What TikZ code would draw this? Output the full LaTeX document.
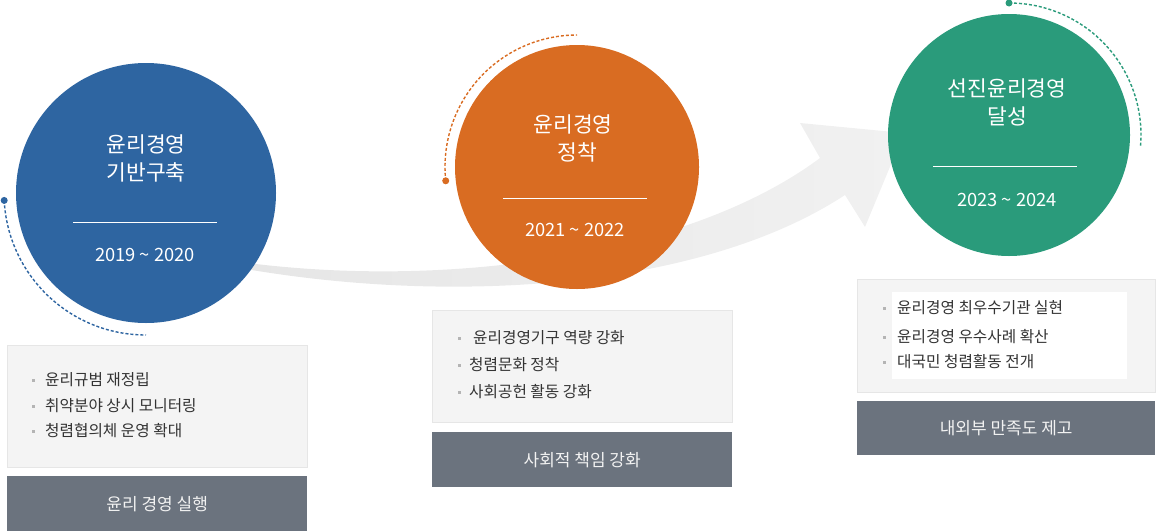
\documentclass[tikz,border=0pt]{standalone}
\usepackage{fontspec}
\setmainfont{Noto Sans CJK KR}
\usetikzlibrary{positioning}
\definecolor{stageblue}{HTML}{2E65A1}
\definecolor{stageorange}{HTML}{D96C22}
\definecolor{stagegreen}{HTML}{2A9B7B}
\definecolor{bargray}{HTML}{6B737E}
\definecolor{bartext}{HTML}{F2F2F2}
\definecolor{boxfill}{HTML}{F4F4F4}
\definecolor{boxline}{HTML}{E6E6E6}
\definecolor{itemtext}{HTML}{333333}
\definecolor{bulletgray}{HTML}{B4B4B4}
\definecolor{arrowleft}{HTML}{E6E6E6}
\definecolor{arrowright}{HTML}{F1F1F1}
\begin{document}
\begin{tikzpicture}[x=1pt,y=-1pt,
    stage/.style={shape=circle, inner sep=0pt},
    title/.style={text=white, align=center, font=\fontsize{21.5}{28}\selectfont},
    period/.style={text=white, font=\fontsize{18.3}{20}\selectfont},
    divider/.style={white, line width=0.8pt},
    dotarc/.style={line width=1.4pt, dash pattern=on 3pt off 2pt},
    listbox/.style={shape=rectangle, draw=boxline, fill=boxfill, anchor=north west, inner sep=0pt},
    item/.style={anchor=west, inner sep=0pt, text=itemtext, font=\fontsize{15.7}{18}\selectfont},
    bullet/.style={shape=rectangle, fill=bulletgray, minimum size=3pt, inner sep=0pt},
    bar/.style={shape=rectangle, fill=bargray, anchor=north west, inner sep=0pt, text=bartext, font=\fontsize{17}{18}\selectfont},
  ]
    \useasboundingbox (0,0) rectangle (1156,530);

    % big curved arrow behind the stages
    \shade[left color=arrowleft, right color=arrowright] (240,262) .. controls (450,290) and (690,255) .. (820,158)
      -- (800,123) -- (904,133) -- (865,227) -- (845,195)
      .. controls (700,290) and (450,305) .. (240,268) -- cycle;

    % stage 1
    \node[stage, fill=stageblue, minimum size=260pt] (c1) at (146,193) {};
    \draw[dotarc, stageblue] ([shift={(183:142pt)}]c1.center) arc[start angle=183, end angle=270, radius=142pt];
    \fill[stageblue] ([shift={(183:142pt)}]c1.center) circle[radius=3.5pt];
    \node[title] (t1) at (146,158) {윤리경영\\기반구축};
    \draw[divider] (73,222) -- (217,222);
    \node[period] (p1) at (145,255) {2019 \textasciitilde{} 2020};

    % stage 2
    \node[stage, fill=stageorange, minimum size=244pt] (c2) at (577,167) {};
    \draw[dotarc, stageorange] ([shift={(186:132pt)}]c2.center) arc[start angle=186, end angle=90, radius=132pt];
    \fill[stageorange] ([shift={(186:132pt)}]c2.center) circle[radius=3.5pt];
    \node[title] (t2) at (573,138) {윤리경영\\\hspace*{8pt}정착};
    \draw[divider] (503,198) -- (647,198);
    \node[period] (p2) at (575,230) {2021 \textasciitilde{} 2022};

    % stage 3
    \node[stage, fill=stagegreen, minimum size=242pt] (c3) at (1009,135) {};
    \draw[dotarc, stagegreen] ([shift={(90:132pt)}]c3.center) arc[start angle=90, end angle=-5, radius=132pt];
    \fill[stagegreen] ([shift={(90:132pt)}]c3.center) circle[radius=3.5pt];
    \node[title] (t3) at (1007,102) {선진윤리경영\\달성};
    \draw[divider] (933,166) -- (1077,166);
    \node[period] (p3) at (1007,200) {2023 \textasciitilde{} 2024};

    % lists and bars
    \node[listbox, minimum width=300pt, minimum height=122pt] (b1) at (7,345) {};
    \node[bullet] (d11) at (33,380) {};
    \node[bullet] (d12) at (33,406) {};
    \node[bullet] (d13) at (33,431) {};
    \node[item] (i11) at (45,380) {윤리규범 재정립};
    \node[item] (i12) at (45,406) {취약분야 상시 모니터링};
    \node[item] (i13) at (45,431) {청렴협의체 운영 확대};
    \node[bar, minimum width=300pt, minimum height=56pt] (r1) at (7,476) {윤리 경영 실행};

    \node[listbox, minimum width=300pt, minimum height=112pt] (b2) at (432,310) {};
    \node[bullet] (d21) at (459,338) {};
    \node[bullet] (d22) at (459,365) {};
    \node[bullet] (d23) at (459,392) {};
    \node[item] (i21) at (473,338) {윤리경영기구 역량 강화};
    \node[item] (i22) at (469,365) {청렴문화 정착};
    \node[item] (i23) at (469,392) {사회공헌 활동 강화};
    \node[bar, minimum width=300pt, minimum height=55pt] (r2) at (432,432) {사회적 책임 강화};

    \node[listbox, minimum width=298pt, minimum height=113pt] (b3) at (857,279) {};
    \node[shape=rectangle, fill=white, anchor=north west, inner sep=0pt, minimum width=235pt, minimum height=87pt] (w3) at (892,292) {};
    \node[bullet] (d31) at (884,308) {};
    \node[bullet] (d32) at (884,337) {};
    \node[bullet] (d33) at (884,362) {};
    \node[item] (i31) at (897,308) {윤리경영 최우수기관 실현};
    \node[item] (i32) at (897,337) {윤리경영 우수사례 확산};
    \node[item] (i33) at (897,362) {대국민 청렴활동 전개};
    \node[bar, minimum width=298pt, minimum height=54pt] (r3) at (857,401) {내외부 만족도 제고};

  \end{tikzpicture}
\end{document}
